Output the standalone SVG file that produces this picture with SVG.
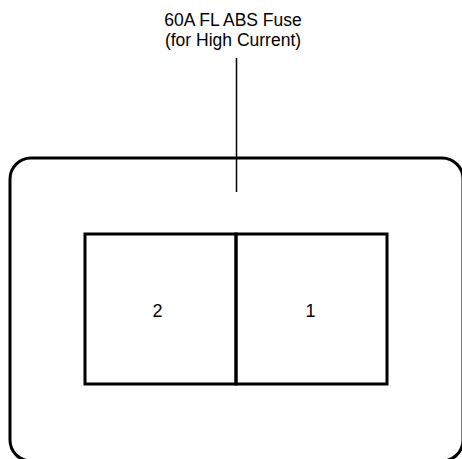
<svg xmlns="http://www.w3.org/2000/svg" width="462" height="459" viewBox="0 0 462 459">
<style>
.t{font-family:"Liberation Sans",Arial,sans-serif;font-size:17.5px;fill:#000;text-anchor:middle}
.n{font-family:"Liberation Sans",Arial,sans-serif;font-size:18px;fill:#000;text-anchor:middle}
.box{fill:none;stroke:#000;stroke-width:3}
</style>
<rect width="462" height="459" fill="#fff"/>
<g id="housing">
<rect class="box" x="10" y="158" width="453" height="303" rx="21" ry="21"/>
</g>
<g id="label">
<text class="t" x="233" y="26">60A FL ABS Fuse</text>
<text class="t" x="233" y="46">(for High Current)</text>
</g>
<g id="connectors">
<line x1="236.5" y1="58" x2="236.5" y2="192" stroke="#000" stroke-width="1.5"/>
</g>
<g id="fuse2">
<rect class="box" x="85" y="234" width="151" height="150"/>
<text class="n" x="157.5" y="317">2</text>
</g>
<g id="fuse1">
<rect class="box" x="236" y="234" width="151" height="150"/>
<text class="n" x="310.5" y="317">1</text>
</g>
</svg>
